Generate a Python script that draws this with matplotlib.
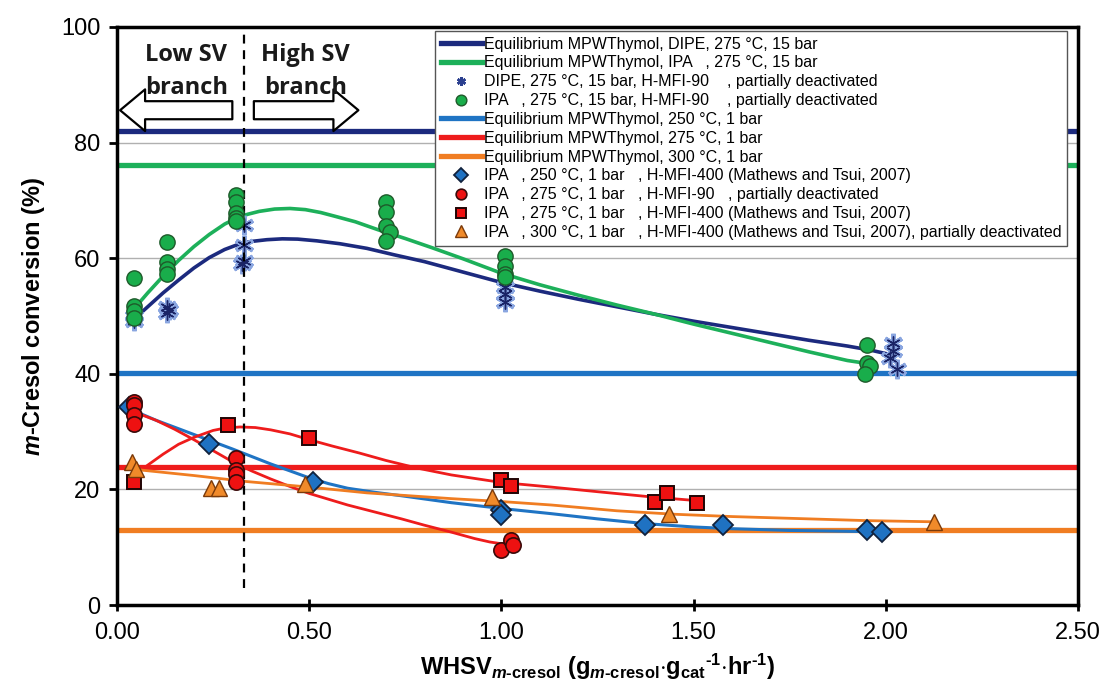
import matplotlib.pyplot as plt
import numpy as np

plt.rcParams['font.family'] = ['Liberation Sans Narrow', 'Liberation Sans', 'DejaVu Sans']
plt.rcParams['mathtext.fontset'] = 'custom'
plt.rcParams['mathtext.rm'] = 'Liberation Sans:bold'
plt.rcParams['mathtext.bf'] = 'Liberation Sans:bold'
plt.rcParams['mathtext.it'] = 'Liberation Sans:italic:bold'
plt.rcParams['mathtext.default'] = 'bf'

# equilibrium conversions (%)
eq_dipe_15bar = 82.0
eq_ipa_15bar = 76.1
eq_250_1bar = 40.2
eq_275_1bar = 23.9
eq_300_1bar = 12.9

# DIPE, 275 C, 15 bar, H-MFI-90
dipe_x = [0.045, 0.045, 0.13, 0.13, 0.135, 0.33, 0.33, 0.33, 0.325, 1.01, 1.01, 1.01, 2.02, 2.02, 2.01, 2.03]
dipe_y = [50.0, 49.2, 51.5, 50.5, 51.0, 65.8, 62.3, 59.5, 59.0, 55.0, 53.8, 52.5, 45.3, 43.9, 42.7, 40.9]

# IPA, 275 C, 15 bar, H-MFI-90
ipa15_x = [0.045, 0.045, 0.045, 0.045, 0.13, 0.13, 0.13, 0.13, 0.31, 0.31, 0.31, 0.31, 0.31,
           0.70, 0.70, 0.70, 0.71, 0.70, 1.01, 1.01, 1.01, 1.01, 1.95, 1.95, 1.96, 1.945]
ipa15_y = [56.5, 51.8, 50.8, 49.7, 62.8, 59.4, 58.2, 57.2, 70.9, 69.8, 67.8, 67.0, 66.4,
           69.8, 68.0, 65.5, 64.6, 63.0, 60.4, 58.6, 57.3, 56.7, 45.0, 41.8, 41.3, 39.9]

# IPA, 250 C, 1 bar, H-MFI-400
ipa250_x = [0.03, 0.24, 0.51, 1.0, 1.0, 1.373, 1.577, 1.95, 1.99]
ipa250_y = [34.3, 27.8, 21.3, 16.4, 15.6, 13.8, 13.8, 13.0, 12.7]

# IPA, 275 C, 1 bar, H-MFI-90
ipa275_90_x = [0.045, 0.045, 0.045, 0.045, 0.31, 0.31, 0.31, 0.31, 1.0, 1.025, 1.03]
ipa275_90_y = [35.2, 34.6, 32.9, 31.3, 25.4, 23.4, 22.6, 21.3, 9.6, 11.2, 10.4]

# IPA, 275 C, 1 bar, H-MFI-400
ipa275_400_x = [0.045, 0.29, 0.50, 1.00, 1.025, 1.40, 1.43, 1.51]
ipa275_400_y = [21.3, 31.2, 28.9, 21.6, 20.6, 17.9, 19.3, 17.7]

# IPA, 300 C, 1 bar, H-MFI-400
ipa300_x = [0.04, 0.05, 0.245, 0.265, 0.49, 0.975, 1.435, 2.125]
ipa300_y = [24.7, 23.6, 20.3, 20.3, 20.9, 18.7, 15.8, 14.4]

# trend lines
trend_dipe_x = [0.045, 0.08, 0.12, 0.16, 0.20, 0.24, 0.28, 0.32, 0.35, 0.39, 0.43, 0.47, 0.52, 0.58,
                0.65, 0.72, 0.80, 0.90, 1.00, 1.10, 1.20, 1.30, 1.40, 1.50, 1.60, 1.70, 1.80, 1.90,
                1.96, 2.02]
trend_dipe_y = [49.5, 51.6, 54.0, 56.2, 58.3, 60.1, 61.5, 62.5, 62.9, 63.2, 63.35, 63.3, 63.0, 62.5,
                61.7, 60.6, 59.4, 57.6, 55.8, 54.3, 52.9, 51.6, 50.3, 49.1, 48.0, 46.9, 45.8, 44.8,
                44.1, 43.2]
trend_ipa15_x = [0.045, 0.08, 0.12, 0.16, 0.20, 0.24, 0.28, 0.31, 0.34, 0.37, 0.41, 0.45, 0.49, 0.53,
                 0.57, 0.62, 0.68, 0.75, 0.82, 0.90, 1.00, 1.10, 1.20, 1.30, 1.40, 1.50, 1.60, 1.70,
                 1.80, 1.90, 1.97]
trend_ipa15_y = [51.3, 54.0, 56.9, 59.6, 62.0, 64.1, 65.9, 66.9, 67.6, 68.1, 68.5, 68.6, 68.4, 67.9,
                 67.2, 66.3, 64.9, 63.4, 61.8, 59.9, 57.4, 55.4, 53.6, 51.9, 50.3, 48.6, 47.0, 45.4,
                 43.8, 42.3, 41.6]
trend_250_x = [0.02, 0.10, 0.20, 0.30, 0.40, 0.45, 0.50, 0.55, 0.60, 0.67, 0.74, 0.87, 1.00, 1.13,
               1.25, 1.37, 1.50, 1.60, 1.75, 1.95, 2.00]
trend_250_y = [34.3, 32.0, 29.5, 27.0, 24.4, 23.2, 22.0, 21.0, 20.2, 19.5, 18.9, 17.7, 16.7, 15.8,
               14.9, 14.1, 13.5, 13.2, 12.9, 12.7, 12.7]
trend_275_400_x = [0.045, 0.08, 0.12, 0.16, 0.20, 0.25, 0.28, 0.32, 0.36, 0.40, 0.45, 0.50, 0.56,
                   0.63, 0.70, 0.78, 0.87, 1.00, 1.13, 1.25, 1.39, 1.50]
trend_275_400_y = [22.5, 24.2, 26.1, 27.8, 29.0, 30.2, 30.6, 30.8, 30.7, 30.3, 29.6, 28.6, 27.5,
                   26.3, 25.0, 23.7, 22.5, 21.2, 20.4, 19.6, 18.7, 18.1]
trend_275_90_x = [0.04, 0.10, 0.15, 0.20, 0.25, 0.30, 0.35, 0.40, 0.45, 0.50, 0.55, 0.60, 0.67, 0.74,
                  0.80, 0.87, 0.93, 0.97, 1.00, 1.03]
trend_275_90_y = [33.5, 32.0, 30.4, 28.6, 26.7, 24.8, 23.2, 21.8, 20.5, 19.3, 18.3, 17.3, 16.1, 14.9,
                  13.8, 12.6, 11.5, 10.9, 10.6, 10.9]
trend_300_x = [0.04, 0.20, 0.33, 0.50, 0.65, 0.87, 1.00, 1.13, 1.30, 1.45, 1.60, 1.75, 1.95, 2.12]
trend_300_y = [23.5, 22.4, 21.4, 20.4, 19.4, 18.4, 17.9, 17.3, 16.3, 15.7, 15.3, 15.0, 14.6, 14.4]

branch_split = 0.33

c_navy = '#1c2a7e'
c_green = '#1db05a'
c_blue = '#1f74c4'
c_red = '#ee1c1c'
c_orange = '#f07d22'

fig = plt.figure(figsize=(11.07, 6.83), dpi=100)
ax = fig.add_axes([0.1057, 0.1142, 0.8681, 0.8463])

ax.set_xlim(0, 2.5)
ax.set_ylim(0, 100)
ax.set_yticks([0, 20, 40, 60, 80, 100])
ax.set_xticks([0, 0.5, 1.0, 1.5, 2.0, 2.5])
ax.set_xticklabels(['0.00', '0.50', '1.00', '1.50', '2.00', '2.50'])
ax.grid(axis='y', color='#b0b0b0', lw=1.0, zorder=0)
for s in ax.spines.values():
    s.set_linewidth(2.5)
ax.tick_params(axis='y', direction='out', length=6, width=2, labelsize=17, pad=6)
ax.tick_params(axis='x', direction='inout', length=8, width=2, labelsize=17, pad=8)

# equilibrium levels
eq_kw = dict(lw=3.8, zorder=2)
h_eq_dipe = ax.axhline(eq_dipe_15bar, color=c_navy, **eq_kw)
h_eq_ipa = ax.axhline(eq_ipa_15bar, color=c_green, **eq_kw)
h_eq_250 = ax.axhline(eq_250_1bar, color=c_blue, **eq_kw)
h_eq_275 = ax.axhline(eq_275_1bar, color=c_red, **eq_kw)
h_eq_300 = ax.axhline(eq_300_1bar, color=c_orange, **eq_kw)

# trend lines
trend_kw = dict(zorder=3, solid_joinstyle='round', solid_capstyle='round')
ax.plot(trend_dipe_x, trend_dipe_y, color=c_navy, lw=2.6, **trend_kw)
ax.plot(trend_ipa15_x, trend_ipa15_y, color=c_green, lw=2.6, **trend_kw)
ax.plot(trend_250_x, trend_250_y, color=c_blue, lw=2.2, **trend_kw)
ax.plot(trend_275_400_x, trend_275_400_y, color=c_red, lw=2.0, **trend_kw)
ax.plot(trend_275_90_x, trend_275_90_y, color=c_red, lw=2.0, **trend_kw)
ax.plot(trend_300_x, trend_300_y, color=c_orange, lw=2.0, **trend_kw)

# measured points
ax.plot(dipe_x, dipe_y, ls='none', marker=(6, 2, 0), ms=14, mew=3.2,
        color='#8aa6e0', zorder=4)
ax.plot(dipe_x, dipe_y, ls='none', marker=(6, 2, 0), ms=10, mew=1.0, color='#1a2466', zorder=4)
h_dipe_leg, = ax.plot([], [], ls='none', marker=(6, 2, 0), ms=9, mew=1.8, color='#2b3f8f')
h_ipa15, = ax.plot(ipa15_x, ipa15_y, ls='none', marker='o', ms=11, mfc='#19ad4b',
                   mec='#1e5a2a', mew=1.0, zorder=5)
h_250, = ax.plot(ipa250_x, ipa250_y, ls='none', marker='D', ms=10, mfc='#1f72c2',
                 mec='#11223d', mew=1.3, zorder=5)
h_275_90, = ax.plot(ipa275_90_x, ipa275_90_y, ls='none', marker='o', ms=11, mfc='#ee1111',
                    mec='#3a0a0a', mew=1.2, zorder=5)
h_275_400, = ax.plot(ipa275_400_x, ipa275_400_y, ls='none', marker='s', ms=10, mfc='#ee1111',
                     mec='#200505', mew=1.4, zorder=5)
h_300, = ax.plot(ipa300_x, ipa300_y, ls='none', marker='^', ms=12, mfc='#f08a2a',
                 mec='#7a3a0a', mew=1.0, zorder=6)

# low / high space velocity branches
ax.plot([branch_split, branch_split], [3, 99.5], color='black', lw=1.6, ls=(0, (4, 3)), zorder=4)
arrow_kw = dict(arrowstyle='simple,head_length=0.9,head_width=1.5,tail_width=0.65',
                fc='white', ec='black', lw=1.6, shrinkA=0, shrinkB=0)
ax.annotate('', xy=(0.008, 85.6), xytext=(0.30, 85.6),
            arrowprops=dict(mutation_scale=20, **arrow_kw))
ax.annotate('', xy=(0.628, 85.6), xytext=(0.356, 85.6),
            arrowprops=dict(mutation_scale=20, **arrow_kw))
txt_kw = dict(ha='center', va='center', fontsize=17, fontweight='bold',
              family=['Open Sans', 'DejaVu Sans'], color='#1a1a1a')
ax.text(0.18, 95.2, 'Low SV', **txt_kw)
ax.text(0.18, 89.4, 'branch', **txt_kw)
ax.text(0.49, 95.2, 'High SV', **txt_kw)
ax.text(0.49, 89.4, 'branch', **txt_kw)

ax.set_ylabel('$\\mathit{m}$-Cresol conversion (%)', fontsize=17, fontweight='bold',
              family=['Liberation Sans'], labelpad=10)
ax.set_xlabel('WHSV$_{\\mathit{m}\\text{-cresol}}$ (g$_{\\mathit{m}\\text{-cresol}}$$\\cdot$'
              'g$_{\\text{cat}}$$^{\\text{-1}}$$\\cdot$hr$^{\\text{-1}}$)',
              fontsize=17, fontweight='bold', family=['Liberation Sans'], labelpad=6)

handles = [h_eq_dipe, h_eq_ipa, h_dipe_leg, h_ipa15, h_eq_250, h_eq_275, h_eq_300,
           h_250, h_275_90, h_275_400, h_300]
labels = ['Equilibrium MPWThymol, DIPE, 275 °C, 15 bar',
          'Equilibrium MPWThymol, IPA   , 275 °C, 15 bar',
          'DIPE, 275 °C, 15 bar, H-MFI-90    , partially deactivated',
          'IPA   , 275 °C, 15 bar, H-MFI-90    , partially deactivated',
          'Equilibrium MPWThymol, 250 °C, 1 bar',
          'Equilibrium MPWThymol, 275 °C, 1 bar',
          'Equilibrium MPWThymol, 300 °C, 1 bar',
          'IPA   , 250 °C, 1 bar   , H-MFI-400 (Mathews and Tsui, 2007)',
          'IPA   , 275 °C, 1 bar   , H-MFI-90   , partially deactivated',
          'IPA   , 275 °C, 1 bar   , H-MFI-400 (Mathews and Tsui, 2007)',
          'IPA   , 300 °C, 1 bar   , H-MFI-400 (Mathews and Tsui, 2007), partially deactivated']
leg = ax.legend(handles, labels, loc='upper left', bbox_to_anchor=(0.331, 0.993),
                borderaxespad=0, fontsize=11.5, labelspacing=0.24, handlelength=2.6,
                handletextpad=0.1, markerscale=0.7, fancybox=False, framealpha=1,
                edgecolor='#555555', borderpad=0.35)
leg.get_frame().set_linewidth(1.0)
leg.set_zorder(10)

plt.savefig('out.png', dpi=100)
